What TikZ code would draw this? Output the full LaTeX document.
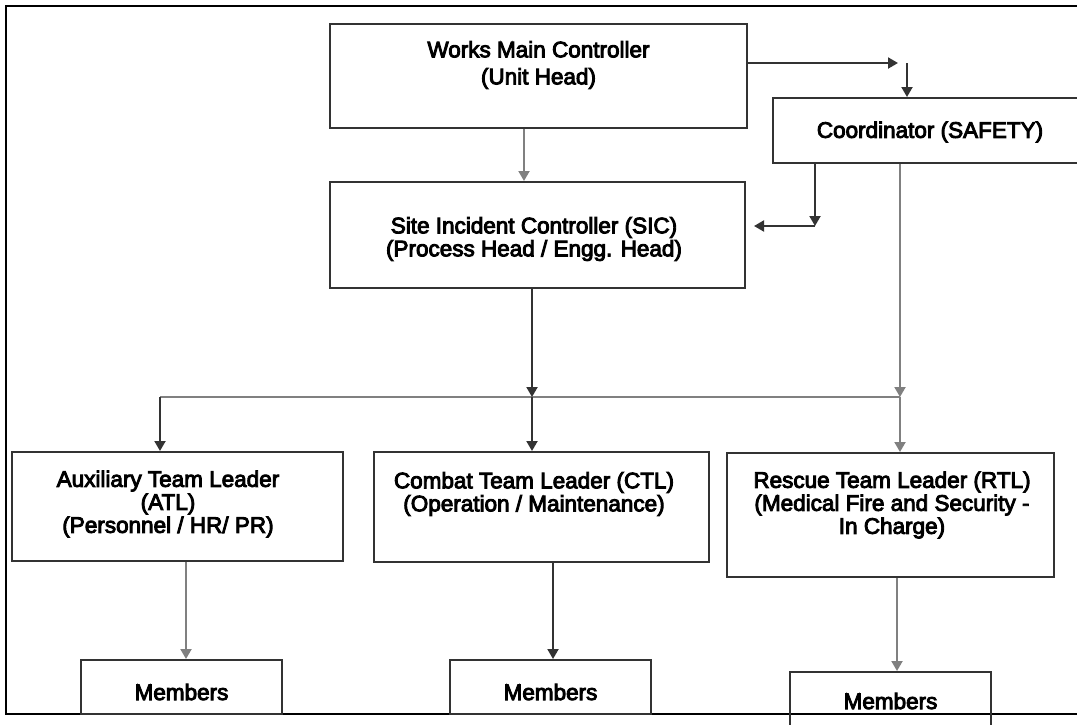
\documentclass[tikz,border=0pt]{standalone}
\usepackage{fontspec}
\setmainfont[FakeBold=4]{Liberation Sans}
\usetikzlibrary{arrows.meta}

\begin{document}
\begin{tikzpicture}[x=1pt,y=-1pt,>={Triangle[length=10pt,width=11pt]},
  box/.style={draw=black!80,line width=2pt,inner sep=0pt},
  txt/.style={align=center,inner sep=0pt,font=\fontsize{22.5}{23}\selectfont},
  link/.style={->,draw=black!50,line width=2pt},
  linkdk/.style={->,draw=black!80,line width=2pt}]
\clip (0,0) rectangle (1077,724);
\draw[line width=2pt] (1077,6) -- (6,6) -- (6,714) -- (1077,714);

\node[box,minimum width=417pt,minimum height=104pt] (wmc) at (538.5,76) {};
\node[txt] (wmc-t) at (538.5,65) {Works Main Controller\\[4pt](Unit Head)};
\node[box,minimum width=314pt,minimum height=65pt] (coord) at (930,130.5) {};
\node[txt] (coord-t) at (930,132) {Coordinator (SAFETY)};
\node[box,minimum width=415pt,minimum height=106pt] (sic) at (537.5,235) {};
\node[txt] (sic-t) at (534,239) {Site Incident Controller (SIC)\\(Process Head / Engg. Head)};

\node[box,minimum width=331pt,minimum height=109pt] (atl) at (177.5,506.5) {};
\node[txt] (atl-t) at (168,504) {Auxiliary Team Leader\\(ATL)\\(Personnel / HR/ PR)};
\node[box,minimum width=335pt,minimum height=110pt] (ctl) at (541.5,507) {};
\node[txt] (ctl-t) at (534,494) {Combat Team Leader (CTL)\\(Operation / Maintenance)};
\node[box,minimum width=327pt,minimum height=124pt] (rtl) at (890.5,515) {};
\node[txt] (rtl-t) at (892,505) {Rescue Team Leader (RTL)\\(Medical Fire and Security -\\In Charge)};

\node[box,minimum width=201pt,minimum height=54pt] (mem1) at (181.5,687) {};
\node[txt] (mem1-t) at (181.5,692) {Members};
\node[box,minimum width=201pt,minimum height=54pt] (mem2) at (550.5,687) {};
\node[txt] (mem2-t) at (550.5,692) {Members};
\node[box,minimum width=201pt,minimum height=68pt] (mem3) at (890.5,706) {};
\node[txt] (mem3-t) at (890.5,701) {Members};

\coordinate (wc) at (898,63);
\coordinate (wd) at (907,63);
\coordinate (ws) at (524,0);
\coordinate (cs) at (815,226);
\coordinate (br) at (0,397);
\coordinate (xa) at (160,0);
\coordinate (xs) at (532,0);
\coordinate (xr) at (900,0);
\coordinate (xm1) at (186,0);
\coordinate (xm2) at (553,0);
\coordinate (xm3) at (897,0);

\draw[linkdk] (wmc.east |- wc) -- (wc);
\draw[linkdk] (wd) -- (wd |- coord.north);
\draw[link] (wmc.south -| ws) -- (ws |- sic.north);
\draw[linkdk] (coord.south -| cs) -- (cs);
\draw[linkdk,shorten >=8pt] (cs) -- (sic.east |- cs);

\draw[link,-] (xa |- br) -- (xr |- br);
\draw[linkdk] (sic.south -| xs) -- (xs |- br);
\draw[linkdk] (xs |- br) -- (xs |- ctl.north);
\draw[link] (coord.south -| xr) -- (xr |- br);
\draw[link] (xr |- br) -- (xr |- rtl.north);
\draw[linkdk] (xa |- br) -- (xa |- atl.north);

\draw[link] (atl.south -| xm1) -- (xm1 |- mem1.north);
\draw[linkdk] (ctl.south -| xm2) -- (xm2 |- mem2.north);
\draw[link] (rtl.south -| xm3) -- (xm3 |- mem3.north);
\end{tikzpicture}
\end{document}
